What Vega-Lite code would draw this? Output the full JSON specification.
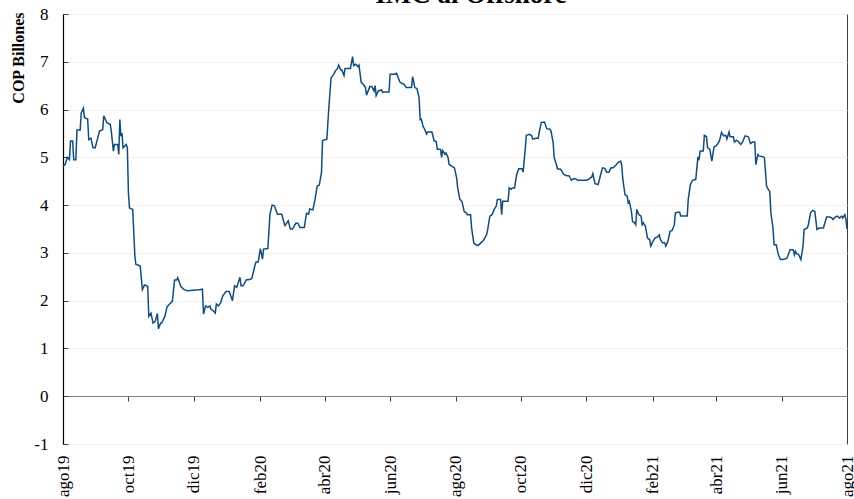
{
  "$schema": "https://vega.github.io/schema/vega-lite/v6.json",
  "width": 784,
  "height": 430,
  "autosize": {"type": "none"},
  "padding": {"left": 63, "top": 14, "right": 7, "bottom": 55},
  "background": "white",
  "config": {
    "view": {"stroke": "#404040", "strokeWidth": 1},
    "font": "Liberation Serif"
  },
  "title": {
    "text": "IMC al Offshore",
    "font": "Liberation Serif",
    "fontSize": 27,
    "fontWeight": "bold",
    "color": "black",
    "anchor": "middle",
    "frame": "group",
    "baseline": "top",
    "offset": -4,
    "dx": 16
  },
  "data": {
    "values": [
      {"fecha": "2019-08-01", "imc": 4.81},
      {"fecha": "2019-08-03", "imc": 4.85},
      {"fecha": "2019-08-05", "imc": 5.0},
      {"fecha": "2019-08-07", "imc": 4.95},
      {"fecha": "2019-08-08", "imc": 5.34},
      {"fecha": "2019-08-10", "imc": 5.34},
      {"fecha": "2019-08-11", "imc": 4.95},
      {"fecha": "2019-08-13", "imc": 4.95},
      {"fecha": "2019-08-14", "imc": 5.57},
      {"fecha": "2019-08-17", "imc": 5.57},
      {"fecha": "2019-08-18", "imc": 5.93},
      {"fecha": "2019-08-20", "imc": 6.03},
      {"fecha": "2019-08-21", "imc": 5.83},
      {"fecha": "2019-08-24", "imc": 5.8},
      {"fecha": "2019-08-25", "imc": 5.37},
      {"fecha": "2019-08-27", "imc": 5.4},
      {"fecha": "2019-08-29", "imc": 5.2},
      {"fecha": "2019-08-31", "imc": 5.2},
      {"fecha": "2019-09-02", "imc": 5.37},
      {"fecha": "2019-09-04", "imc": 5.55},
      {"fecha": "2019-09-07", "imc": 5.58},
      {"fecha": "2019-09-08", "imc": 5.87},
      {"fecha": "2019-09-11", "imc": 5.72},
      {"fecha": "2019-09-14", "imc": 5.69},
      {"fecha": "2019-09-15", "imc": 5.55},
      {"fecha": "2019-09-17", "imc": 5.13},
      {"fecha": "2019-09-18", "imc": 5.27},
      {"fecha": "2019-09-21", "imc": 5.27},
      {"fecha": "2019-09-22", "imc": 5.06},
      {"fecha": "2019-09-23", "imc": 5.79},
      {"fecha": "2019-09-24", "imc": 5.44},
      {"fecha": "2019-09-25", "imc": 5.51},
      {"fecha": "2019-09-26", "imc": 5.2},
      {"fecha": "2019-09-29", "imc": 5.27},
      {"fecha": "2019-09-30", "imc": 5.2},
      {"fecha": "2019-10-01", "imc": 4.26},
      {"fecha": "2019-10-02", "imc": 3.94},
      {"fecha": "2019-10-05", "imc": 3.91},
      {"fecha": "2019-10-07", "imc": 2.93},
      {"fecha": "2019-10-08", "imc": 2.76},
      {"fecha": "2019-10-12", "imc": 2.73},
      {"fecha": "2019-10-14", "imc": 2.23},
      {"fecha": "2019-10-16", "imc": 2.33},
      {"fecha": "2019-10-19", "imc": 2.3},
      {"fecha": "2019-10-20", "imc": 1.67},
      {"fecha": "2019-10-22", "imc": 1.74},
      {"fecha": "2019-10-24", "imc": 1.53},
      {"fecha": "2019-10-26", "imc": 1.57},
      {"fecha": "2019-10-28", "imc": 1.73},
      {"fecha": "2019-10-29", "imc": 1.41},
      {"fecha": "2019-10-31", "imc": 1.53},
      {"fecha": "2019-11-01", "imc": 1.53},
      {"fecha": "2019-11-04", "imc": 1.67},
      {"fecha": "2019-11-06", "imc": 1.87},
      {"fecha": "2019-11-08", "imc": 1.92},
      {"fecha": "2019-11-11", "imc": 1.99},
      {"fecha": "2019-11-13", "imc": 2.43},
      {"fecha": "2019-11-15", "imc": 2.43},
      {"fecha": "2019-11-16", "imc": 2.48},
      {"fecha": "2019-11-19", "imc": 2.29},
      {"fecha": "2019-11-22", "imc": 2.23},
      {"fecha": "2019-11-25", "imc": 2.21},
      {"fecha": "2019-12-06", "imc": 2.23},
      {"fecha": "2019-12-09", "imc": 2.24},
      {"fecha": "2019-12-10", "imc": 1.72},
      {"fecha": "2019-12-12", "imc": 1.89},
      {"fecha": "2019-12-14", "imc": 1.86},
      {"fecha": "2019-12-16", "imc": 1.89},
      {"fecha": "2019-12-17", "imc": 1.82},
      {"fecha": "2019-12-19", "imc": 1.79},
      {"fecha": "2019-12-21", "imc": 1.74},
      {"fecha": "2019-12-22", "imc": 1.93},
      {"fecha": "2019-12-24", "imc": 1.89},
      {"fecha": "2019-12-26", "imc": 1.96},
      {"fecha": "2019-12-28", "imc": 2.1},
      {"fecha": "2019-12-31", "imc": 2.19},
      {"fecha": "2020-01-03", "imc": 2.19},
      {"fecha": "2020-01-06", "imc": 2.0},
      {"fecha": "2020-01-08", "imc": 2.31},
      {"fecha": "2020-01-10", "imc": 2.28},
      {"fecha": "2020-01-13", "imc": 2.49},
      {"fecha": "2020-01-14", "imc": 2.31},
      {"fecha": "2020-01-16", "imc": 2.31},
      {"fecha": "2020-01-19", "imc": 2.44},
      {"fecha": "2020-01-21", "imc": 2.44},
      {"fecha": "2020-01-24", "imc": 2.46},
      {"fecha": "2020-01-27", "imc": 2.74},
      {"fecha": "2020-01-28", "imc": 2.81},
      {"fecha": "2020-01-30", "imc": 2.81},
      {"fecha": "2020-02-01", "imc": 3.09},
      {"fecha": "2020-02-03", "imc": 2.87},
      {"fecha": "2020-02-04", "imc": 3.08},
      {"fecha": "2020-02-08", "imc": 3.09},
      {"fecha": "2020-02-10", "imc": 3.81},
      {"fecha": "2020-02-12", "imc": 4.0},
      {"fecha": "2020-02-14", "imc": 3.99},
      {"fecha": "2020-02-17", "imc": 3.81},
      {"fecha": "2020-02-19", "imc": 3.81},
      {"fecha": "2020-02-21", "imc": 3.81},
      {"fecha": "2020-02-23", "imc": 3.64},
      {"fecha": "2020-02-24", "imc": 3.57},
      {"fecha": "2020-02-27", "imc": 3.67},
      {"fecha": "2020-02-29", "imc": 3.5},
      {"fecha": "2020-03-02", "imc": 3.5},
      {"fecha": "2020-03-05", "imc": 3.62},
      {"fecha": "2020-03-07", "imc": 3.62},
      {"fecha": "2020-03-09", "imc": 3.53},
      {"fecha": "2020-03-13", "imc": 3.53},
      {"fecha": "2020-03-15", "imc": 3.83},
      {"fecha": "2020-03-17", "imc": 3.81},
      {"fecha": "2020-03-18", "imc": 3.92},
      {"fecha": "2020-03-21", "imc": 3.9},
      {"fecha": "2020-03-23", "imc": 4.12},
      {"fecha": "2020-03-25", "imc": 4.4},
      {"fecha": "2020-03-27", "imc": 4.42},
      {"fecha": "2020-03-29", "imc": 4.68},
      {"fecha": "2020-03-30", "imc": 5.35},
      {"fecha": "2020-04-03", "imc": 5.38},
      {"fecha": "2020-04-05", "imc": 6.08},
      {"fecha": "2020-04-07", "imc": 6.67},
      {"fecha": "2020-04-09", "imc": 6.72},
      {"fecha": "2020-04-11", "imc": 6.81},
      {"fecha": "2020-04-13", "imc": 6.86},
      {"fecha": "2020-04-14", "imc": 6.93},
      {"fecha": "2020-04-16", "imc": 6.83},
      {"fecha": "2020-04-17", "imc": 6.83},
      {"fecha": "2020-04-19", "imc": 6.71},
      {"fecha": "2020-04-20", "imc": 6.86},
      {"fecha": "2020-04-23", "imc": 6.86},
      {"fecha": "2020-04-25", "imc": 6.86},
      {"fecha": "2020-04-27", "imc": 7.11},
      {"fecha": "2020-04-28", "imc": 6.92},
      {"fecha": "2020-04-30", "imc": 6.95},
      {"fecha": "2020-05-02", "imc": 6.9},
      {"fecha": "2020-05-03", "imc": 6.93},
      {"fecha": "2020-05-05", "imc": 6.57},
      {"fecha": "2020-05-07", "imc": 6.53},
      {"fecha": "2020-05-09", "imc": 6.46},
      {"fecha": "2020-05-10", "imc": 6.3},
      {"fecha": "2020-05-13", "imc": 6.48},
      {"fecha": "2020-05-15", "imc": 6.48},
      {"fecha": "2020-05-17", "imc": 6.39},
      {"fecha": "2020-05-18", "imc": 6.5},
      {"fecha": "2020-05-19", "imc": 6.29},
      {"fecha": "2020-05-21", "imc": 6.39},
      {"fecha": "2020-05-24", "imc": 6.41},
      {"fecha": "2020-05-25", "imc": 6.36},
      {"fecha": "2020-05-28", "imc": 6.37},
      {"fecha": "2020-05-31", "imc": 6.37},
      {"fecha": "2020-06-01", "imc": 6.74},
      {"fecha": "2020-06-05", "imc": 6.74},
      {"fecha": "2020-06-07", "imc": 6.76},
      {"fecha": "2020-06-10", "imc": 6.58},
      {"fecha": "2020-06-12", "imc": 6.55},
      {"fecha": "2020-06-14", "imc": 6.53},
      {"fecha": "2020-06-16", "imc": 6.46},
      {"fecha": "2020-06-21", "imc": 6.46},
      {"fecha": "2020-06-22", "imc": 6.69},
      {"fecha": "2020-06-24", "imc": 6.46},
      {"fecha": "2020-06-26", "imc": 6.44},
      {"fecha": "2020-06-28", "imc": 6.25},
      {"fecha": "2020-06-29", "imc": 5.79},
      {"fecha": "2020-06-30", "imc": 5.8},
      {"fecha": "2020-07-02", "imc": 5.63},
      {"fecha": "2020-07-03", "imc": 5.6},
      {"fecha": "2020-07-05", "imc": 5.49},
      {"fecha": "2020-07-06", "imc": 5.53},
      {"fecha": "2020-07-10", "imc": 5.53},
      {"fecha": "2020-07-12", "imc": 5.35},
      {"fecha": "2020-07-14", "imc": 5.33},
      {"fecha": "2020-07-15", "imc": 5.17},
      {"fecha": "2020-07-18", "imc": 5.17},
      {"fecha": "2020-07-19", "imc": 5.0},
      {"fecha": "2020-07-20", "imc": 5.14},
      {"fecha": "2020-07-22", "imc": 5.07},
      {"fecha": "2020-07-23", "imc": 5.09},
      {"fecha": "2020-07-25", "imc": 5.0},
      {"fecha": "2020-07-26", "imc": 4.85},
      {"fecha": "2020-07-31", "imc": 4.78},
      {"fecha": "2020-08-02", "imc": 4.57},
      {"fecha": "2020-08-03", "imc": 4.36},
      {"fecha": "2020-08-05", "imc": 4.12},
      {"fecha": "2020-08-07", "imc": 4.08},
      {"fecha": "2020-08-09", "imc": 3.87},
      {"fecha": "2020-08-11", "imc": 3.84},
      {"fecha": "2020-08-12", "imc": 3.8},
      {"fecha": "2020-08-15", "imc": 3.8},
      {"fecha": "2020-08-16", "imc": 3.52},
      {"fecha": "2020-08-18", "imc": 3.21},
      {"fecha": "2020-08-20", "imc": 3.17},
      {"fecha": "2020-08-22", "imc": 3.15},
      {"fecha": "2020-08-25", "imc": 3.22},
      {"fecha": "2020-08-27", "imc": 3.26},
      {"fecha": "2020-08-30", "imc": 3.38},
      {"fecha": "2020-08-31", "imc": 3.49},
      {"fecha": "2020-09-02", "imc": 3.77},
      {"fecha": "2020-09-04", "imc": 3.8},
      {"fecha": "2020-09-06", "imc": 3.91},
      {"fecha": "2020-09-08", "imc": 3.98},
      {"fecha": "2020-09-09", "imc": 4.12},
      {"fecha": "2020-09-12", "imc": 4.12},
      {"fecha": "2020-09-13", "imc": 3.8},
      {"fecha": "2020-09-14", "imc": 4.08},
      {"fecha": "2020-09-19", "imc": 4.08},
      {"fecha": "2020-09-20", "imc": 4.36},
      {"fecha": "2020-09-22", "imc": 4.33},
      {"fecha": "2020-09-23", "imc": 4.36},
      {"fecha": "2020-09-25", "imc": 4.36},
      {"fecha": "2020-09-27", "imc": 4.64},
      {"fecha": "2020-09-29", "imc": 4.76},
      {"fecha": "2020-10-02", "imc": 4.76},
      {"fecha": "2020-10-03", "imc": 4.69},
      {"fecha": "2020-10-05", "imc": 5.17},
      {"fecha": "2020-10-06", "imc": 5.46},
      {"fecha": "2020-10-09", "imc": 5.48},
      {"fecha": "2020-10-11", "imc": 5.45},
      {"fecha": "2020-10-12", "imc": 5.38},
      {"fecha": "2020-10-15", "imc": 5.4},
      {"fecha": "2020-10-17", "imc": 5.4},
      {"fecha": "2020-10-18", "imc": 5.52},
      {"fecha": "2020-10-20", "imc": 5.73},
      {"fecha": "2020-10-23", "imc": 5.74},
      {"fecha": "2020-10-25", "imc": 5.6},
      {"fecha": "2020-10-28", "imc": 5.59},
      {"fecha": "2020-10-29", "imc": 5.55},
      {"fecha": "2020-10-31", "imc": 5.31},
      {"fecha": "2020-11-01", "imc": 4.99},
      {"fecha": "2020-11-03", "imc": 4.85},
      {"fecha": "2020-11-04", "imc": 4.76},
      {"fecha": "2020-11-07", "imc": 4.75},
      {"fecha": "2020-11-10", "imc": 4.64},
      {"fecha": "2020-11-12", "imc": 4.62},
      {"fecha": "2020-11-15", "imc": 4.61},
      {"fecha": "2020-11-17", "imc": 4.52},
      {"fecha": "2020-11-19", "imc": 4.55},
      {"fecha": "2020-11-21", "imc": 4.55},
      {"fecha": "2020-11-23", "imc": 4.52},
      {"fecha": "2020-11-28", "imc": 4.52},
      {"fecha": "2020-12-01", "imc": 4.52},
      {"fecha": "2020-12-03", "imc": 4.54},
      {"fecha": "2020-12-06", "imc": 4.59},
      {"fecha": "2020-12-07", "imc": 4.66},
      {"fecha": "2020-12-09", "imc": 4.45},
      {"fecha": "2020-12-12", "imc": 4.43},
      {"fecha": "2020-12-14", "imc": 4.61},
      {"fecha": "2020-12-16", "imc": 4.78},
      {"fecha": "2020-12-18", "imc": 4.77},
      {"fecha": "2020-12-20", "imc": 4.69},
      {"fecha": "2020-12-22", "imc": 4.69},
      {"fecha": "2020-12-24", "imc": 4.78},
      {"fecha": "2020-12-26", "imc": 4.78},
      {"fecha": "2020-12-29", "imc": 4.85},
      {"fecha": "2020-12-31", "imc": 4.9},
      {"fecha": "2021-01-02", "imc": 4.92},
      {"fecha": "2021-01-03", "imc": 4.82},
      {"fecha": "2021-01-04", "imc": 4.54},
      {"fecha": "2021-01-06", "imc": 4.22},
      {"fecha": "2021-01-08", "imc": 4.19},
      {"fecha": "2021-01-09", "imc": 4.05},
      {"fecha": "2021-01-10", "imc": 4.08},
      {"fecha": "2021-01-12", "imc": 3.87},
      {"fecha": "2021-01-13", "imc": 3.66},
      {"fecha": "2021-01-15", "imc": 3.63},
      {"fecha": "2021-01-16", "imc": 3.59},
      {"fecha": "2021-01-17", "imc": 3.91},
      {"fecha": "2021-01-19", "imc": 3.8},
      {"fecha": "2021-01-21", "imc": 3.77},
      {"fecha": "2021-01-22", "imc": 3.59},
      {"fecha": "2021-01-23", "imc": 3.63},
      {"fecha": "2021-01-25", "imc": 3.56},
      {"fecha": "2021-01-27", "imc": 3.31},
      {"fecha": "2021-01-29", "imc": 3.28},
      {"fecha": "2021-01-30", "imc": 3.14},
      {"fecha": "2021-02-01", "imc": 3.24},
      {"fecha": "2021-02-03", "imc": 3.31},
      {"fecha": "2021-02-05", "imc": 3.33},
      {"fecha": "2021-02-07", "imc": 3.38},
      {"fecha": "2021-02-08", "imc": 3.28},
      {"fecha": "2021-02-10", "imc": 3.21},
      {"fecha": "2021-02-12", "imc": 3.21},
      {"fecha": "2021-02-13", "imc": 3.14},
      {"fecha": "2021-02-15", "imc": 3.24},
      {"fecha": "2021-02-17", "imc": 3.45},
      {"fecha": "2021-02-19", "imc": 3.47},
      {"fecha": "2021-02-21", "imc": 3.59},
      {"fecha": "2021-02-22", "imc": 3.84},
      {"fecha": "2021-02-24", "imc": 3.85},
      {"fecha": "2021-02-26", "imc": 3.85},
      {"fecha": "2021-02-27", "imc": 3.77},
      {"fecha": "2021-03-05", "imc": 3.77},
      {"fecha": "2021-03-06", "imc": 4.12},
      {"fecha": "2021-03-08", "imc": 4.43},
      {"fecha": "2021-03-10", "imc": 4.52},
      {"fecha": "2021-03-13", "imc": 4.54},
      {"fecha": "2021-03-15", "imc": 5.01},
      {"fecha": "2021-03-16", "imc": 4.94},
      {"fecha": "2021-03-17", "imc": 5.13},
      {"fecha": "2021-03-20", "imc": 5.13},
      {"fecha": "2021-03-21", "imc": 5.46},
      {"fecha": "2021-03-23", "imc": 5.43},
      {"fecha": "2021-03-24", "imc": 5.2},
      {"fecha": "2021-03-26", "imc": 5.17},
      {"fecha": "2021-03-28", "imc": 4.92},
      {"fecha": "2021-03-30", "imc": 5.22},
      {"fecha": "2021-04-01", "imc": 5.24},
      {"fecha": "2021-04-04", "imc": 5.34},
      {"fecha": "2021-04-06", "imc": 5.52},
      {"fecha": "2021-04-08", "imc": 5.45},
      {"fecha": "2021-04-10", "imc": 5.46},
      {"fecha": "2021-04-11", "imc": 5.38},
      {"fecha": "2021-04-13", "imc": 5.53},
      {"fecha": "2021-04-14", "imc": 5.43},
      {"fecha": "2021-04-17", "imc": 5.43},
      {"fecha": "2021-04-18", "imc": 5.32},
      {"fecha": "2021-04-20", "imc": 5.36},
      {"fecha": "2021-04-22", "imc": 5.32},
      {"fecha": "2021-04-24", "imc": 5.27},
      {"fecha": "2021-04-26", "imc": 5.34},
      {"fecha": "2021-04-28", "imc": 5.45},
      {"fecha": "2021-05-01", "imc": 5.43},
      {"fecha": "2021-05-03", "imc": 5.29},
      {"fecha": "2021-05-05", "imc": 5.32},
      {"fecha": "2021-05-07", "imc": 5.32},
      {"fecha": "2021-05-08", "imc": 4.85},
      {"fecha": "2021-05-10", "imc": 5.06},
      {"fecha": "2021-05-11", "imc": 5.03},
      {"fecha": "2021-05-15", "imc": 5.01},
      {"fecha": "2021-05-16", "imc": 4.99},
      {"fecha": "2021-05-18", "imc": 4.4},
      {"fecha": "2021-05-20", "imc": 4.31},
      {"fecha": "2021-05-21", "imc": 4.29},
      {"fecha": "2021-05-22", "imc": 3.84},
      {"fecha": "2021-05-24", "imc": 3.52},
      {"fecha": "2021-05-25", "imc": 3.17},
      {"fecha": "2021-05-27", "imc": 3.17},
      {"fecha": "2021-05-29", "imc": 2.96},
      {"fecha": "2021-05-31", "imc": 2.86},
      {"fecha": "2021-06-02", "imc": 2.86},
      {"fecha": "2021-06-04", "imc": 2.87},
      {"fecha": "2021-06-06", "imc": 2.89},
      {"fecha": "2021-06-08", "imc": 3.01},
      {"fecha": "2021-06-09", "imc": 3.07},
      {"fecha": "2021-06-12", "imc": 3.06},
      {"fecha": "2021-06-13", "imc": 2.96},
      {"fecha": "2021-06-14", "imc": 3.03},
      {"fecha": "2021-06-15", "imc": 2.99},
      {"fecha": "2021-06-17", "imc": 2.96},
      {"fecha": "2021-06-19", "imc": 2.86},
      {"fecha": "2021-06-21", "imc": 3.14},
      {"fecha": "2021-06-22", "imc": 3.49},
      {"fecha": "2021-06-25", "imc": 3.52},
      {"fecha": "2021-06-26", "imc": 3.59},
      {"fecha": "2021-06-28", "imc": 3.84},
      {"fecha": "2021-06-30", "imc": 3.89},
      {"fecha": "2021-07-02", "imc": 3.87},
      {"fecha": "2021-07-04", "imc": 3.49},
      {"fecha": "2021-07-06", "imc": 3.52},
      {"fecha": "2021-07-10", "imc": 3.52},
      {"fecha": "2021-07-13", "imc": 3.75},
      {"fecha": "2021-07-16", "imc": 3.75},
      {"fecha": "2021-07-18", "imc": 3.73},
      {"fecha": "2021-07-19", "imc": 3.7},
      {"fecha": "2021-07-21", "imc": 3.75},
      {"fecha": "2021-07-23", "imc": 3.77},
      {"fecha": "2021-07-25", "imc": 3.73},
      {"fecha": "2021-07-27", "imc": 3.77},
      {"fecha": "2021-07-28", "imc": 3.73},
      {"fecha": "2021-07-30", "imc": 3.8},
      {"fecha": "2021-07-31", "imc": 3.7},
      {"fecha": "2021-08-01", "imc": 3.5}
    ]
  },
  "mark": {"type": "line", "color": "#124c7c", "strokeWidth": 1.5, "interpolate": "linear"},
  "encoding": {
    "x": {
      "field": "fecha",
      "type": "temporal",
      "scale": {
        "type": "utc",
        "domain": [
          {"year": 2019, "month": 8, "date": 1, "utc": true},
          {"year": 2021, "month": 8, "date": 1, "utc": true}
        ],
        "nice": false
      },
      "axis": {
        "title": null,
        "values": [
          {"year": 2019, "month": 8, "date": 1, "utc": true},
          {"year": 2019, "month": 10, "date": 1, "utc": true},
          {"year": 2019, "month": 12, "date": 1, "utc": true},
          {"year": 2020, "month": 2, "date": 1, "utc": true},
          {"year": 2020, "month": 4, "date": 1, "utc": true},
          {"year": 2020, "month": 6, "date": 1, "utc": true},
          {"year": 2020, "month": 8, "date": 1, "utc": true},
          {"year": 2020, "month": 10, "date": 1, "utc": true},
          {"year": 2020, "month": 12, "date": 1, "utc": true},
          {"year": 2021, "month": 2, "date": 1, "utc": true},
          {"year": 2021, "month": 4, "date": 1, "utc": true},
          {"year": 2021, "month": 6, "date": 1, "utc": true},
          {"year": 2021, "month": 8, "date": 1, "utc": true}
        ],
        "labelExpr": "['ene','feb','mar','abr','may','jun','jul','ago','sep','oct','nov','dic'][utcmonth(datum.value)] + utcFormat(datum.value, '%y')",
        "offset": -48,
        "domain": true,
        "domainColor": "#808080",
        "domainWidth": 1.2,
        "ticks": true,
        "tickColor": "#404040",
        "tickSize": 5,
        "tickWidth": 1,
        "grid": false,
        "labelAngle": -90,
        "labelAlign": "right",
        "labelBaseline": "middle",
        "labelPadding": 54,
        "labelFont": "Liberation Serif",
        "labelFontSize": 17,
        "labelColor": "black",
        "labelFlush": false,
        "labelOverlap": false,
        "labelBound": false
      }
    },
    "y": {
      "field": "imc",
      "type": "quantitative",
      "scale": {"domain": [-1, 8], "nice": false, "zero": false},
      "axis": {
        "title": "COP Billones",
        "titleFont": "Liberation Serif",
        "titleFontSize": 16,
        "titleFontWeight": "bold",
        "titleColor": "black",
        "titleAnchor": "end",
        "titleAngle": -90,
        "titleAlign": "right",
        "titleBaseline": "middle",
        "titleX": -45,
        "titleY": -2,
        "values": [-1, 0, 1, 2, 3, 4, 5, 6, 7, 8],
        "labelExpr": "datum.value < 0 ? '-' + abs(datum.value) : '' + datum.value",
        "domain": true,
        "domainColor": "black",
        "domainWidth": 1.2,
        "ticks": true,
        "tickSize": -5,
        "tickColor": "#404040",
        "grid": true,
        "gridColor": "#f0f0f0",
        "gridWidth": 1,
        "labelFont": "Liberation Serif",
        "labelFontSize": 17,
        "labelColor": "black",
        "labelPadding": 20,
        "labelFlush": false,
        "labelOverlap": false,
        "labelBound": false
      }
    }
  }
}
